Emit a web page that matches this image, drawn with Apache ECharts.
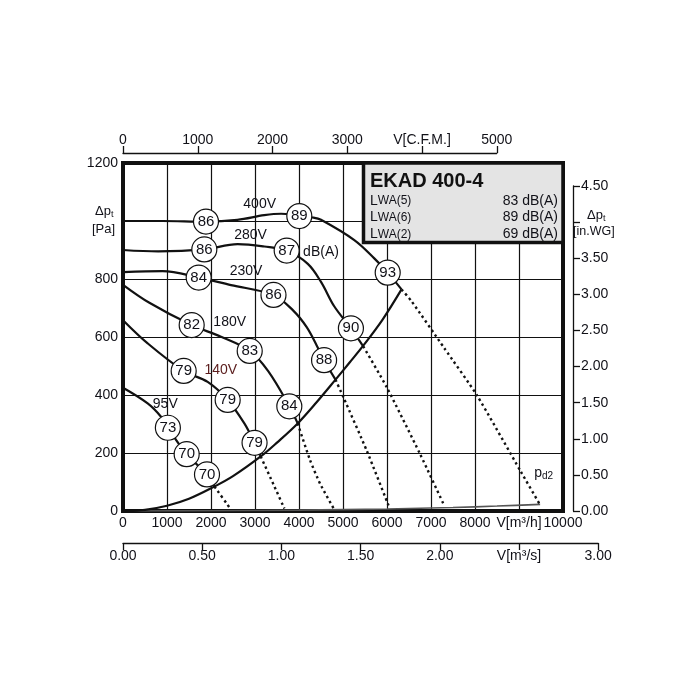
<!DOCTYPE html>
<html><head><meta charset="utf-8">
<script src="https://cdn.jsdelivr.net/npm/echarts@6/dist/echarts.min.js"></script>
<style>html,body{margin:0;padding:0;background:#fff}#c{width:700px;height:700px}</style>
</head><body><div id="c"></div>
<script>
// ---- tick labels ----
const xTickLabels = ['0','1000','2000','3000','4000','5000','6000','7000','8000','V[m³/h]','10000'];
const yTickLabels = ['0','200','400','600','800','','1200'];
const rightTickLabels = ['0.00','0.50','1.00','1.50','2.00','2.50','3.00','3.50','','4.50'];
const cfmTickLabels = ['0','1000','2000','3000','V[C.F.M.]','5000'];
const m3sTickLabels = ['0.00','0.50','1.00','1.50','2.00','V[m³/s]','3.00'];

// ---- fan curves (V m3/h, dp Pa) ----
const v400 = [[0,1000],[900,1000],[1886,998],[2600,1004],[3211,1020],[3591,1025],[4007,1017],[4311,1012],[4500,1004],[5257,934],[5711,871],[6016,822],[6330,764]];
const v400Dot = [[6330,764],[6545,726],[7300,562],[8039,400],[9045,135],[9460,26]];
const v280 = [[0,900],[800,895],[1848,902],[2606,920],[3212,912],[3720,898],[4200,852],[4500,790],[4800,706],[5180,630],[5460,568]];
const v280Dot = [[5460,568],[5993,427],[6750,197],[7300,19]];
const v230 = [[0,824],[900,827],[1720,805],[2455,779],[3420,745],[3870,691],[4175,634],[4402,571],[4570,520],[4830,453]];
const v230Dot = [[4830,453],[5010,392],[5540,208],[6035,19]];
const v180 = [[0,780],[600,718],[1561,641],[2227,601],[2880,552],[3300,482],[3780,361],[3970,302]];
const v180Dot = [[3970,302],[4250,176],[4480,94],[4790,8]];
const v140 = [[0,658],[561,578],[1379,483],[1924,445],[2379,383],[2758,302],[2990,235],[3130,188]];
const v140Dot = [[3130,188],[3440,85],[3667,9]];
const v95 = [[0,425],[561,371],[864,325],[1020,287],[1447,196],[1909,126],[2080,84]];
const v95Dot = [[2080,84],[2440,8]];
const sysCurve = [[0,0],[500,4],[1000,18],[1500,42],[2075,84],[2500,120],[3130,188],[3500,236],[3970,302],[4400,375],[4830,453],[5150,512],[5460,570],[5900,660],[6330,764]];
const pd2 = [[0,0],[2000,1],[4000,3],[6000,7],[7500,12],[8500,17],[9480,23]];

// ---- sound level markers [V, dp, dB(A)] ----
const c400 = [[1886,998,'86'],[4007,1017,'89'],[6016,822,'93']];
const c280 = [[1848,902,'86'],[3720,898,'87'],[5180,630,'90']];
const c230 = [[1720,805,'84'],[3420,745,'86'],[4570,520,'88']];
const c180 = [[1561,641,'82'],[2880,552,'83'],[3780,361,'84']];
const c140 = [[1379,483,'79'],[2379,383,'79'],[2990,235,'79']];
const c95  = [[1020,287,'73'],[1447,196,'70'],[1909,126,'70']];

// ---- annotations [V, dp, text] ----
const notes = [[3106,1059,'400V'],[2898,952,'280V'],[2795,828,'230V'],[2425,651,'180V'],[961,368,'95V']];
const notesRed = [[2223,486,'140V']];
const noteDb = [[4500,893,'dB(A)']];
const notePd = [[9560,132,'pd2']];

// ---- legend box ----
const modelName = 'EKAD 400-4';
const lwaIdx = ['5','6','2'];
const lwaVals = ['83 dB(A)','89 dB(A)','69 dB(A)'];

// unit conversions
const CFM = 1.699011;  // m3/h per CFM
const INWG = 249.089;  // Pa per in.WG

const FONT = 'Liberation Sans, Arial, sans-serif';
const TXT = '#111118';
const BLK = '#111';
const PLOT_L = 123, PLOT_T = 163, PLOT_W = 440, PLOT_H = 348;
const pxPerM3h = PLOT_W / 10000, pxPerPa = PLOT_H / 1200;

const solid = (d) => ({type:'line', data:d, smooth:0.35, showSymbol:false, symbol:'none', z:3,
  lineStyle:{color:BLK, width:2.2}, xAxisIndex:0, yAxisIndex:0});
const dotted = (d) => ({type:'line', data:d, smooth:0.2, showSymbol:false, symbol:'none', z:3,
  lineStyle:{color:BLK, width:2.4, type:[2.4,3.2], cap:'butt'}, xAxisIndex:0, yAxisIndex:0});
const circles = (d) => ({type:'scatter', data:d, symbol:'circle', symbolSize:25, z:5,
  itemStyle:{color:'#fff', borderColor:BLK, borderWidth:1.2, opacity:1},
  label:{show:true, position:'inside', formatter:p=>p.data[2], fontSize:15, color:TXT, fontFamily:FONT},
  emphasis:{disabled:true}, xAxisIndex:0, yAxisIndex:0});
const textSeries = (d, color) => ({type:'scatter', data:d, symbol:'circle', symbolSize:1, z:6,
  itemStyle:{color:'rgba(0,0,0,0)', opacity:1},
  label:{show:true, position:'inside', formatter:p=>p.data[2], fontSize:14, color:color, fontFamily:FONT},
  emphasis:{disabled:true}, xAxisIndex:0, yAxisIndex:0});

const axLine = {show:true, onZero:false, lineStyle:{color:BLK, width:1.3}};
const axTick = {show:true, inside:false, length:7, lineStyle:{color:BLK, width:1.3}};
const lbl = (extra) => Object.assign({fontSize:14, color:TXT, fontFamily:FONT, showMinLabel:true, showMaxLabel:true}, extra);

const rightH = 4.5 * INWG * pxPerPa;

const option = {
  animation:false,
  backgroundColor:'#fff',
  textStyle:{fontFamily:FONT},
  grid:[
    {left:PLOT_L, top:PLOT_T, width:PLOT_W, height:PLOT_H, show:true, borderWidth:4, borderColor:BLK, backgroundColor:'transparent'},
    {left:PLOT_L, top:PLOT_T+PLOT_H-rightH, width:PLOT_W, height:rightH},
    {left:PLOT_L, top:153, width:5000*CFM*pxPerM3h, height:20},
    {left:PLOT_L, top:523, width:3*3600*pxPerM3h, height:20}
  ],
  xAxis:[
    {gridIndex:0, type:'value', min:0, max:10000, interval:1000,
      axisLine:{show:false, onZero:false}, axisTick:{show:false},
      splitLine:{show:true, lineStyle:{color:BLK, width:1.2}},
      axisLabel:lbl({margin:5, formatter:v=>xTickLabels[Math.round(v/1000)]})},
    {gridIndex:1, type:'value', min:0, max:1, show:false, axisLine:{onZero:false}},
    {gridIndex:2, type:'value', position:'top', min:0, max:5000, interval:1000,
      axisLine:axLine, axisTick:axTick, splitLine:{show:false},
      axisLabel:lbl({margin:6, formatter:v=>cfmTickLabels[Math.round(v/1000)]})},
    {gridIndex:3, type:'value', position:'bottom', min:0, max:3, interval:0.5,
      axisLine:axLine, axisTick:axTick, splitLine:{show:false},
      axisLabel:lbl({margin:6, formatter:v=>m3sTickLabels[Math.round(v/0.5)]})}
  ],
  yAxis:[
    {gridIndex:0, type:'value', min:0, max:1200, interval:200,
      axisLine:{show:false, onZero:false}, axisTick:{show:false},
      splitLine:{show:true, lineStyle:{color:BLK, width:1.2}},
      axisLabel:lbl({margin:5, formatter:v=>yTickLabels[Math.round(v/200)]})},
    {gridIndex:1, type:'value', position:'right', offset:10, min:0, max:4.5, interval:0.5,
      axisLine:axLine, axisTick:axTick, splitLine:{show:false},
      axisLabel:lbl({margin:8, formatter:v=>rightTickLabels[Math.round(v/0.5)]})},
    {gridIndex:2, type:'value', min:0, max:1, show:false, axisLine:{onZero:false}},
    {gridIndex:3, type:'value', min:0, max:1, show:false, axisLine:{onZero:false}}
  ],
  series:[
    {type:'line', data:pd2, smooth:0.3, showSymbol:false, symbol:'none', z:2,
      lineStyle:{color:'#555', width:1.6}, xAxisIndex:0, yAxisIndex:0},
    solid(sysCurve),
    solid(v400), dotted(v400Dot),
    solid(v280), dotted(v280Dot),
    solid(v230), dotted(v230Dot),
    solid(v180), dotted(v180Dot),
    solid(v140), dotted(v140Dot),
    solid(v95), dotted(v95Dot),
    circles(c400), circles(c280), circles(c230), circles(c180), circles(c140), circles(c95),
    textSeries(notes, TXT), textSeries(notesRed, '#5a1c1c'), textSeries(noteDb, TXT),
    {type:'scatter', data:notePd, symbol:'circle', symbolSize:1, z:6, itemStyle:{color:'rgba(0,0,0,0)', opacity:1},
      emphasis:{disabled:true},
      label:{show:true, position:'inside', formatter:p=>'{a|'+p.data[2].charAt(0)+'}{s|'+p.data[2].slice(1)+'}',
        rich:{a:{fontSize:14, color:TXT, fontFamily:FONT}, s:{fontSize:10, color:TXT, fontFamily:FONT, padding:[7,0,0,0]}}},
      xAxisIndex:0, yAxisIndex:0}
  ],
  graphic:[
    {type:'rect', z:100, shape:{x:363.5, y:163, width:199.5, height:79.5},
      style:{fill:'#e4e4e4', stroke:BLK, lineWidth:3.5}},
    {type:'text', z:101, x:370, y:181, style:{text:modelName, fontSize:20, fontWeight:'bold', fontFamily:FONT, fill:'#111', verticalAlign:'middle'}},
    ...lwaIdx.map((k,i)=>({type:'text', z:101, x:370, y:201+i*16.6,
      style:{text:'{L|L}{w|WA('+k+')}', verticalAlign:'middle', fill:TXT,
        rich:{L:{fontSize:14, fontFamily:FONT, fill:TXT}, w:{fontSize:12, fontFamily:FONT, fill:TXT}}}})),
    ...lwaVals.map((t,i)=>({type:'text', z:101, x:558, y:201+i*16.6,
      style:{text:t, fontSize:14, fontFamily:FONT, fill:TXT, align:'right', verticalAlign:'middle'}})),
    {type:'text', z:101, x:95, y:211, style:{text:'{a|Δp}{s|t}', verticalAlign:'middle', align:'left',
      rich:{a:{fontSize:13, fontFamily:FONT, fill:TXT}, s:{fontSize:9, fontFamily:FONT, fill:TXT, padding:[7,0,0,0]}}}},
    {type:'text', z:101, x:92, y:229, style:{text:'[Pa]', fontSize:13, fontFamily:FONT, fill:TXT, verticalAlign:'middle'}},
    {type:'text', z:101, x:587, y:215, style:{text:'{a|Δp}{s|t}', verticalAlign:'middle', align:'left',
      rich:{a:{fontSize:13, fontFamily:FONT, fill:TXT}, s:{fontSize:9, fontFamily:FONT, fill:TXT, padding:[7,0,0,0]}}}},
    {type:'text', z:101, x:573, y:232, style:{text:'[in.WG]', fontSize:12.5, fontFamily:FONT, fill:TXT, verticalAlign:'middle'}}
  ]
};
const chart = echarts.init(document.getElementById('c'), null, {renderer:'canvas'});
chart.setOption(option);
</script>
</body></html>
